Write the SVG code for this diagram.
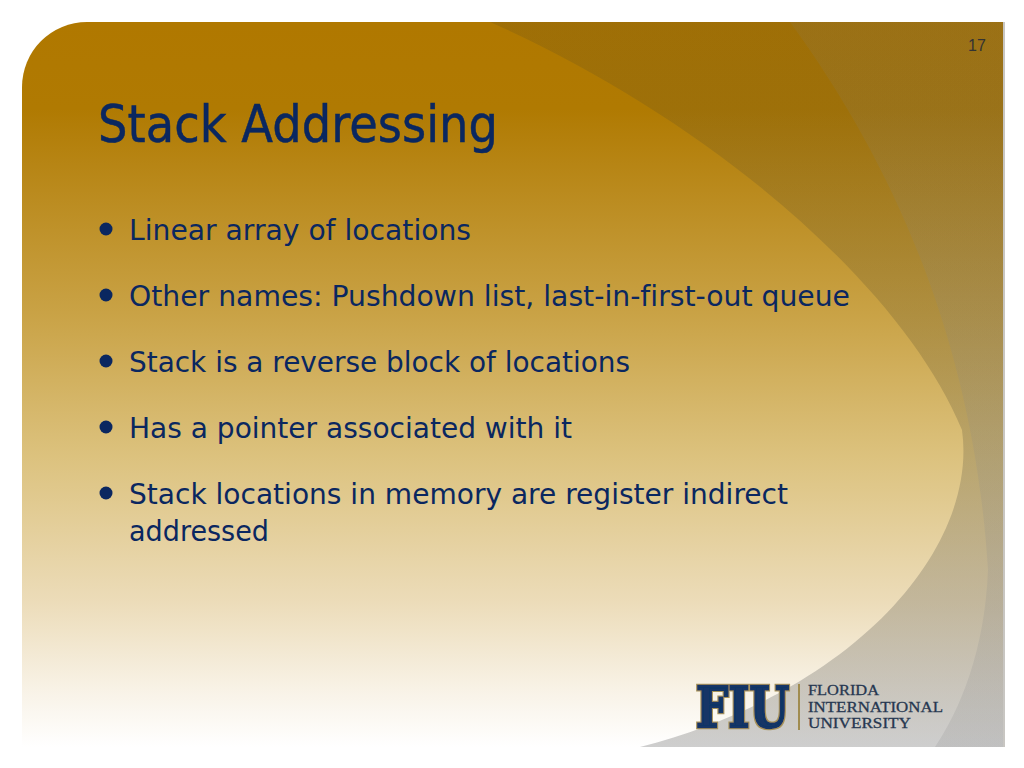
<svg xmlns="http://www.w3.org/2000/svg" width="1024" height="768" viewBox="0 0 1024 768">
<defs>
<linearGradient id="bg" gradientUnits="userSpaceOnUse" x1="0" y1="22" x2="0" y2="747">
<stop offset="0" stop-color="#b07800"/><stop offset="0.12" stop-color="#b07a02"/><stop offset="0.4" stop-color="#c9a245"/><stop offset="0.6" stop-color="#dcc27e"/><stop offset="0.8" stop-color="#ecdcb9"/><stop offset="0.92" stop-color="#f8f2e6"/><stop offset="1" stop-color="#ffffff"/>
</linearGradient>
<linearGradient id="w1" gradientUnits="userSpaceOnUse" x1="0" y1="22" x2="0" y2="747">
<stop offset="0" stop-color="#5a4a20" stop-opacity="0.2"/><stop offset="0.5" stop-color="#5a5030" stop-opacity="0.25"/><stop offset="1" stop-color="#8a8a8a" stop-opacity="0.42"/>
</linearGradient>
<linearGradient id="w2" gradientUnits="userSpaceOnUse" x1="0" y1="22" x2="0" y2="747">
<stop offset="0" stop-color="#808080" stop-opacity="0.12"/><stop offset="1" stop-color="#909090" stop-opacity="0.22"/>
</linearGradient>
<filter id="gold" x="-5%" y="-5%" width="110%" height="110%">
<feMorphology in="SourceAlpha" operator="dilate" radius="1" result="d"/>
<feFlood flood-color="#a8945a"/><feComposite in2="d" operator="in" result="o"/>
<feMerge><feMergeNode in="o"/><feMergeNode in="SourceGraphic"/></feMerge>
</filter>
<clipPath id="panel"><path d="M87 22H1003V747H22V87A65 65 0 0 1 87 22Z"/></clipPath>
</defs>
<style>
.t{font-family:"DejaVu Sans","Noto Sans",sans-serif;fill:#0a2760;font-variant-ligatures:none}
.b{font-size:28.5px}
.dot{fill:#0a2760}
.lg{font-family:"Liberation Serif",serif;font-size:15.5px;fill:#263750;stroke:#263750;stroke-width:.3px}
</style>
<rect width="1024" height="768" fill="#fff"/>
<rect x="1003" y="22" width="2" height="725" fill="#c8c6c2"/>
<g id="panel-bg" clip-path="url(#panel)">
<rect x="22" y="22" width="981" height="725" fill="url(#bg)"/>
<path d="M490 22C700 115 900 280 962 430C978 545 860 690 640 747H1003V22Z" fill="url(#w1)"/>
<path d="M790 22C905 180 975 360 988 570C985 650 960 710 935 747H1003V22Z" fill="url(#w2)"/>
</g>
<text id="page" x="968" y="51" font-family="Liberation Sans, sans-serif" font-size="16" fill="#333">17</text>
<text id="title" class="t" x="98" y="142" font-size="52" stroke="#0a2760" stroke-width=".5" textLength="400" lengthAdjust="spacingAndGlyphs">Stack Addressing</text>
<g id="bullets">
<circle class="dot" cx="106" cy="229" r="6.5"/><text class="t b" x="129" y="240" textLength="342" lengthAdjust="spacingAndGlyphs">Linear array of locations</text>
<circle class="dot" cx="106" cy="295" r="6.5"/><text class="t b" x="129" y="306" textLength="721" lengthAdjust="spacingAndGlyphs">Other names: Pushdown list, last-in-first-out queue</text>
<circle class="dot" cx="106" cy="361" r="6.5"/><text class="t b" x="129" y="372" textLength="501" lengthAdjust="spacingAndGlyphs">Stack is a reverse block of locations</text>
<circle class="dot" cx="106" cy="427" r="6.5"/><text class="t b" x="129" y="438" textLength="443" lengthAdjust="spacingAndGlyphs">Has a pointer associated with it</text>
<circle class="dot" cx="106" cy="493" r="6.5"/><text class="t b" x="129" y="504" textLength="659" lengthAdjust="spacingAndGlyphs">Stack locations in memory are register indirect</text>
<text class="t b" x="129" y="541" textLength="140" lengthAdjust="spacingAndGlyphs">addressed</text>
</g>
<g id="logo">
<text x="696" y="727" font-family="DejaVu Serif,serif" font-weight="bold" font-size="56" fill="#123566" stroke="#123566" stroke-width="2.5" textLength="93" lengthAdjust="spacingAndGlyphs" filter="url(#gold)">FIU</text>
<rect x="798" y="684" width="2" height="46" fill="#a08c50"/>
<text class="lg" x="808" y="695" textLength="71" lengthAdjust="spacingAndGlyphs">FLORIDA</text>
<text class="lg" x="808" y="712" textLength="135" lengthAdjust="spacingAndGlyphs">INTERNATIONAL</text>
<text class="lg" x="808" y="728" textLength="103" lengthAdjust="spacingAndGlyphs">UNIVERSITY</text>
</g>
</svg>
